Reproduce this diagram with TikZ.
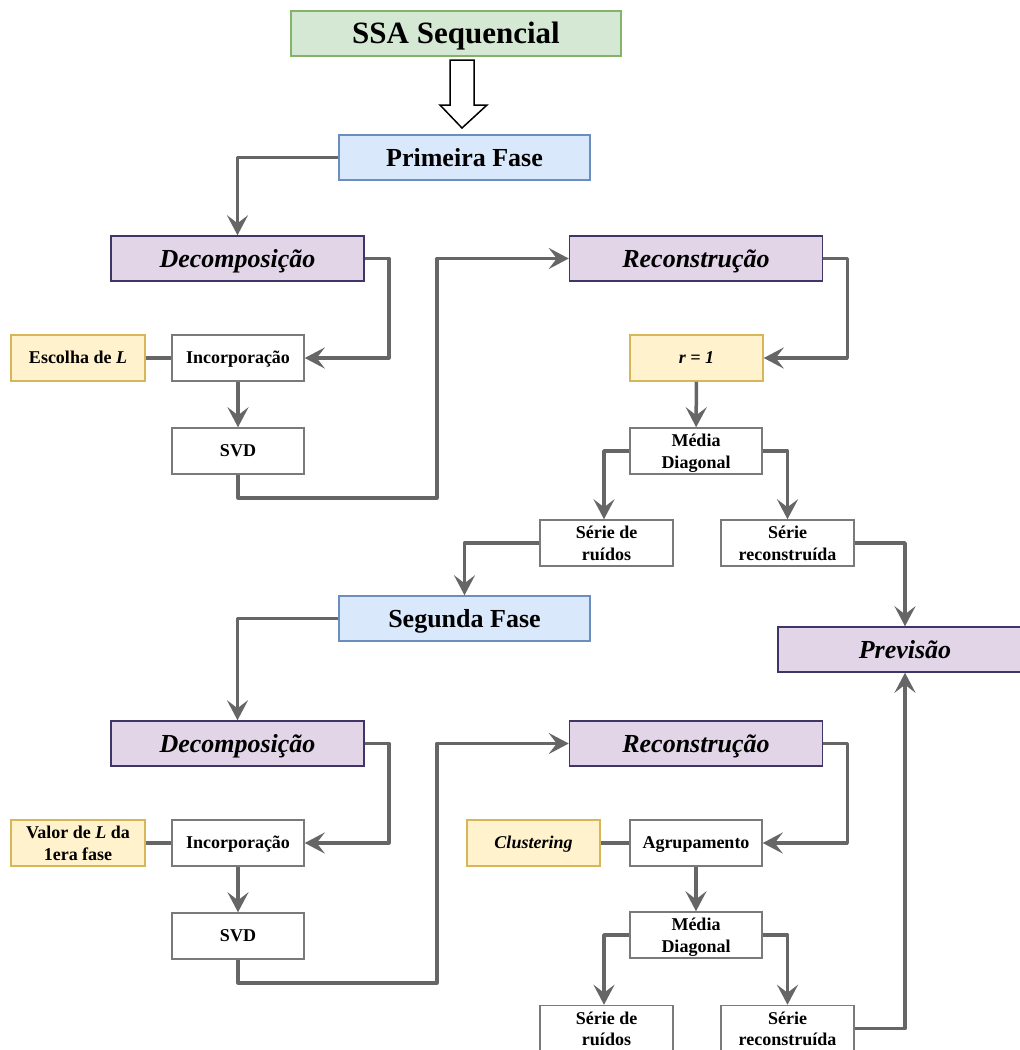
\documentclass[tikz,border=0pt]{standalone}
\usepackage{fontspec}
\setmainfont{Liberation Serif}
\usetikzlibrary{arrows.meta,calc}
\definecolor{gfill}{HTML}{D5E8D4}
\definecolor{gline}{HTML}{82B366}
\definecolor{bfill}{HTML}{DAE8FC}
\definecolor{bline}{HTML}{6C8EBF}
\definecolor{pfill}{HTML}{E1D5E7}
\definecolor{pline}{HTML}{3F3566}
\definecolor{yfill}{HTML}{FFF2CC}
\definecolor{yline}{HTML}{D6B656}
\definecolor{boxline}{HTML}{7A7A7A}
\definecolor{conn}{HTML}{666666}
\tikzset{
  base/.style={draw, line width=1.5pt, inner sep=0pt, align=center, text depth=0pt, font=\bfseries},
  big/.style={base, minimum width=251pt, minimum height=45pt, text height=17.2pt, font=\fontsize{26}{30}\selectfont\bfseries},
  titlebox/.style={base, fill=gfill, draw=gline, minimum width=330pt, minimum height=45pt, text height=20.5pt, font=\fontsize{31}{36}\selectfont\bfseries},
  phase/.style={big, fill=bfill, draw=bline},
  stage/.style={big, fill=pfill, draw=pline, minimum width=253pt, font=\fontsize{26}{30}\selectfont\bfseries\itshape},
  small/.style={base, minimum width=132pt, minimum height=46pt, font=\fontsize{18}{21.5}\selectfont\bfseries},
  one/.style={text height=11.9pt},
  plain/.style={small, fill=white, draw=boxline},
  param/.style={small, fill=yfill, draw=yline, minimum width=134pt},
  conn/.style={draw=conn, line width=3.5pt, line join=round},
  arr/.style={conn, -{Stealth[length=20pt,width=21pt,inset=8pt]}}
}
\begin{document}
\begin{tikzpicture}[x=1pt,y=-1pt]
\useasboundingbox (0,0) rectangle (1020,1050);
% nodes
\node[titlebox] (ssa) at (456,33.5) {SSA Sequencial};
\node[phase] (f1) at (464.5,157.5) {Primeira Fase};
\node[stage] (dec1) at (237.5,258.5) {Decomposição};
\node[stage] (rec1) at (696,258.5) {Reconstrução};
\node[param, one] (esc1) at (78,358) {Escolha de \textit{L}};
\node[plain, one] (inc1) at (238,358) {Incorporação};
\node[plain, one] (svd1) at (238,451) {SVD};
\node[param, one, minimum width=133pt] (r1) at (696.5,358) {\textit{r = 1}};
\node[plain] (med1) at (696,451) {Média\\Diagonal};
\node[plain, minimum width=133pt] (sr1) at (606.5,543) {Série de\\ruídos};
\node[plain, minimum width=133pt] (srec1) at (787.5,543) {Série\\reconstruída};
\node[phase] (f2) at (464.5,618.5) {Segunda Fase};
\node[stage, minimum width=254pt] (prev) at (905,649.5) {Previsão};
\node[stage] (dec2) at (237.5,743.5) {Decomposição};
\node[stage] (rec2) at (696,743.5) {Reconstrução};
\node[param] (val2) at (78,843) {Valor de \textit{L} da\\1era fase};
\node[plain, one] (inc2) at (238,843) {Incorporação};
\node[plain, one] (svd2) at (238,936) {SVD};
\node[param, one, minimum width=133pt] (clu) at (533.5,843) {\textit{Clustering}};
\node[plain, one] (agr) at (696,843) {Agrupamento};
\node[plain] (med2) at (696,935) {Média\\Diagonal};
\node[plain, minimum width=133pt] (sr2) at (606.5,1028.5) {Série de\\ruídos};
\node[plain, minimum width=133pt] (srec2) at (787.5,1028.5) {Série\\reconstruída};
% hollow arrow
\draw[line width=1.5pt, fill=white, line join=miter]
  (450,60) -- (474,60) -- (474,105) -- (487,105) -- (462,128) -- (440,105) -- (450,105) -- cycle;
% connectors phase 1
\draw[arr] (f1.west) -| (dec1.north);
\draw[arr] (dec1.east) -- ++(24,0) |- (inc1.east);
\draw[conn] (esc1) -- (inc1);
\draw[arr] (inc1) -- (svd1);
\draw[arr] (svd1.south) |- ($(svd1.south)+(199,23)$) |- (rec1.west);
\draw[arr] (rec1.east) -- ++(24,0) |- (r1.east);
\draw[arr] (r1) -- (med1);
\draw[arr] (med1.west) -| ($(sr1.north)+(-2.5,0)$);
\draw[arr] (med1.east) -| (srec1.north);
\draw[arr] (sr1.west) -| (f2.north);
\draw[arr] (srec1.east) -| (prev.north);
% connectors phase 2
\draw[arr] (f2.west) -| (dec2.north);
\draw[arr] (dec2.east) -- ++(24,0) |- (inc2.east);
\draw[conn] (val2) -- (inc2);
\draw[arr] (inc2) -- (svd2);
\draw[arr] (svd2.south) |- ($(svd2.south)+(199,23)$) |- (rec2.west);
\draw[arr] (rec2.east) -- ++(24,0) |- (agr.east);
\draw[conn] (clu) -- (agr);
\draw[arr] (agr) -- (med2);
\draw[arr] (med2.west) -| ($(sr2.north)+(-2.5,0)$);
\draw[arr] (med2.east) -| (srec2.north);
\draw[arr] (srec2.east) -| (prev.south);
\end{tikzpicture}
\end{document}
